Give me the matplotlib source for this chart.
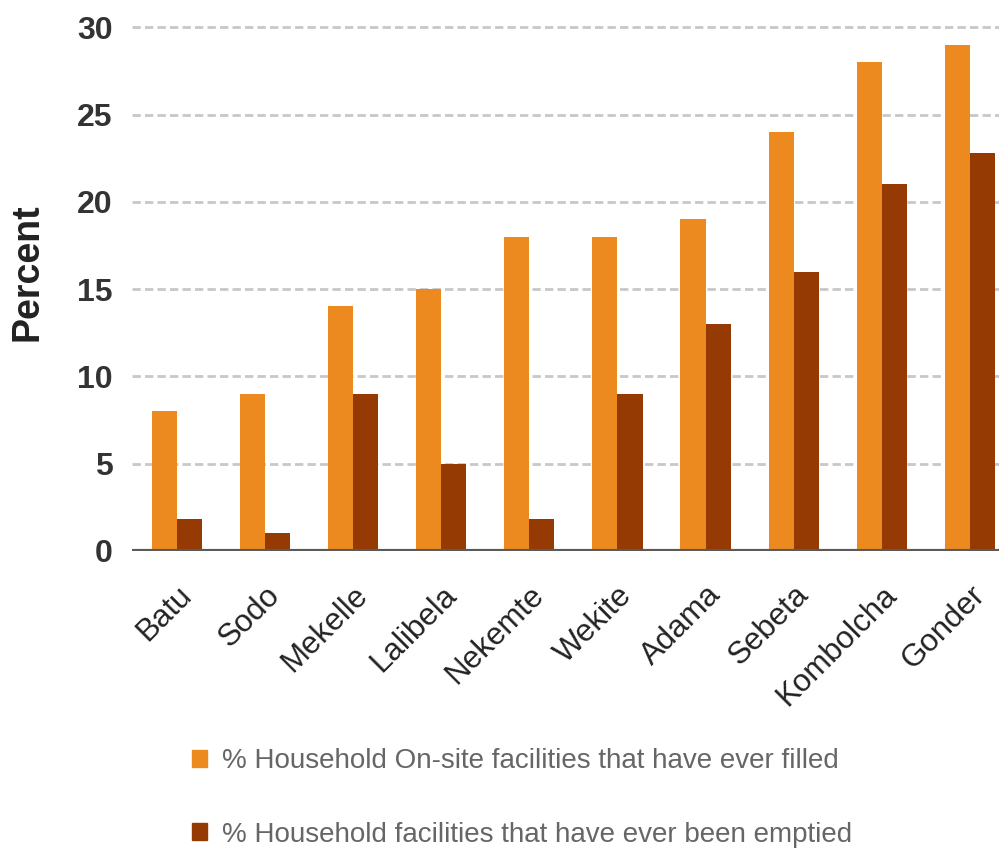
import numpy as np
import matplotlib
matplotlib.use("Agg")
from matplotlib import pyplot as plt
from matplotlib.patches import Patch

towns = ["Batu", "Sodo", "Mekelle", "Lalibela", "Nekemte", "Wekite",
         "Adama", "Sebeta", "Kombolcha", "Gonder"]
ever_filled = [8, 9, 14, 15, 18, 18, 19, 24, 28, 29]
ever_emptied = [1.8, 1, 9, 5, 1.8, 9, 13, 16, 21, 22.8]
yticks = [0, 5, 10, 15, 20, 25, 30]

filled_label = "% Household On-site facilities that have ever filled"
emptied_label = "% Household facilities that have ever been emptied"

orange = "#ED8A1F"
brown = "#953A03"

plt.rcParams['font.family'] = ['Liberation Sans', 'DejaVu Sans']

fig = plt.figure(figsize=(9.99, 8.5), dpi=100)
ax = fig.add_axes([0.132, 0.352, 0.868, 0.618])

x = np.arange(len(towns))
w = 0.285
ax.bar(x - w / 2, ever_filled, w, color=orange, zorder=3)
ax.bar(x + w / 2, ever_emptied, w, color=brown, zorder=3)

ax.set_xlim(-0.51, len(towns) - 1 + 0.33)
ax.set_ylim(0, 30.1)

# dashed grid, solid dark baseline
for v in yticks[1:]:
    ax.axhline(v, color="#c8c8c8", lw=2, ls=(0, (3, 1.5)), zorder=1)
ax.axhline(0, color="#5a5a5a", lw=3, zorder=4)

for s in ax.spines.values():
    s.set_visible(False)

ax.set_yticks(yticks)
ax.set_yticklabels([str(v) for v in yticks], fontsize=23, fontweight="bold", color="#333333")
ax.tick_params(axis="y", length=0, pad=14)
ax.set_xticks(x)
ax.set_xticklabels(towns, rotation=45, ha="right", rotation_mode="anchor",
                   fontsize=22.5, color="#222222")
ax.tick_params(axis="x", length=0, pad=21)
ax.set_ylabel("Percent", fontsize=27, fontweight="bold", color="#222222")
ax.yaxis.set_label_coords(-0.1, 0.53)

handles = [Patch(color=orange, label=filled_label), Patch(color=brown, label=emptied_label)]
fig.legend(handles=handles, loc="upper left", bbox_to_anchor=(0.167, 0.149),
           frameon=False, fontsize=20, labelcolor="#666666",
           handlelength=0.55, handleheight=0.55, handletextpad=0.55, labelspacing=1.7)

plt.savefig("out.png", dpi=100)
plt.close(fig)
